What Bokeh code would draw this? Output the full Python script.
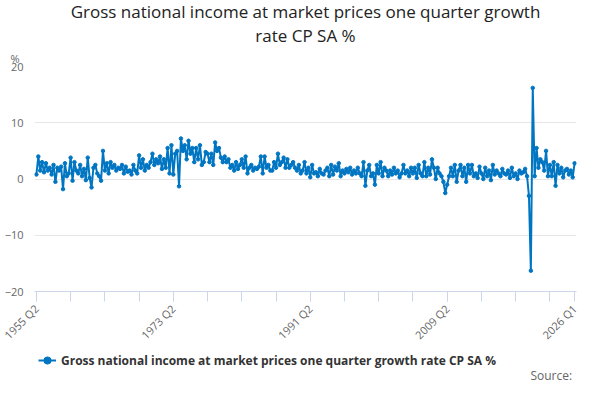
from bokeh.plotting import figure
from bokeh.embed import file_html
from bokeh.resources import INLINE
from bokeh.layouts import column
from bokeh.models import FixedTicker, Legend, LegendItem, Label, ColumnDataSource, Title

start_year = 1955
start_q = 2
series_name = "Gross national income at market prices one quarter growth rate CP SA %"
values = [
 0.8, 4.0, 1.5,
 3.0, 1.2, 2.8, 1.5,  2.0, 0.8, 2.5, -0.5,  2.0, 1.5, 2.2, -1.8,  2.8, 0.5, 1.0, 3.8,
 -0.3, 3.0, 1.5, 1.0,  2.5, 0.5, 1.8, -0.2,  3.8, 0.2, -1.5, 2.0,  2.5, 1.0, 0.5, -0.3,
 5.0, 1.5, 2.8, 1.0,  3.0, 2.0, 2.5, 1.5,  2.0, 1.8, 2.5, 1.0,  2.2, 1.3, 1.5, 0.8,
 2.5, 1.5, 1.0, 4.2,  2.0, 3.5, 1.5, 2.5,  2.0, 3.0, 4.5, 2.5,  3.5, 2.8, 4.0, 1.8,
 3.5, 2.0, 5.5, 1.0,  6.0, 0.8, 4.5, 5.0,  -1.3, 7.2, 5.0, 6.0,  3.5, 6.8, 4.5, 5.5,
 3.0, 5.5, 3.5, 6.0,  2.5, 3.0, 4.8, 4.5,  3.0, 4.5, 2.5, 6.5,  5.0, 5.5, 3.8, 3.0,
 4.0, 3.0, 3.5, 2.0,  2.5, 1.5, 3.0, 1.8,  2.5, 3.5, 2.0, 4.0,  1.0, 2.0, 2.5, 1.5,
 2.0, 1.8, 2.2, 4.0,  1.0, 4.0, 2.0, 2.5,  1.5, 1.5, 3.0, 2.0,  4.5, 2.5, 3.0, 3.8,
 2.0, 3.5, 2.0, 2.5,  3.0, 2.0, 1.5, 2.5,  1.0, 1.5, 3.0, 1.0,  2.0, 0.3, 2.5, 1.0,
 1.2, 0.5, 1.8, 1.0,  0.8, 1.5, 2.0, 0.5,  2.5, 0.8, 2.2, 1.5,  2.8, 0.5, 1.5, 1.0,
 1.8, 1.2, 2.0, 0.8,  1.5, 1.0, 2.0, 1.0,  0.5, 3.0, -1.2, 1.5,  2.5, 0.5, 1.0, -1.0,
 2.5, 1.0, 3.0, 0.5,  2.0, 1.5, 0.5, 1.5,  0.8, 2.0, 1.0, 1.5,  0.3, 1.0, 2.5, 1.0,
 1.5, 0.5, 2.0, 1.0,  2.0, 0.2, 2.5, 1.0,  0.5, 3.0, 0.5, 2.0,  0.8, 3.5, 2.0, 0.0,
 2.0, 1.0, 0.5, -0.5,  -2.5, -1.0, 0.5, 2.0,  0.5, 2.5, -0.5, 1.5,  2.5, 0.5, 2.0, -0.5,
 2.5, 1.0, 2.5, 0.5,  1.0, 0.2, 2.2, 1.0,  0.0, 2.0, 0.5, 1.5,  -0.2, 2.5, 0.8, 1.5,
 1.0, 0.5, 1.8, 1.0,  0.8, 1.5, 0.2, 2.0,  0.5, 1.0, 0.0, 1.5,  1.0, 1.2, 1.8, 0.5,
 -3.0, -16.3, 16.2, 0.5,  5.5, 2.0, 3.5, 3.0,  1.5, 5.0, 0.5, 2.5,  0.5, 3.0, -1.2, 2.5,
 1.0, 2.0, 0.3, 1.5,  1.8, 0.8, 1.5, 0.3,
 2.8,
]
n = len(values)
labels = []
y, q = start_year, start_q
for i in range(n):
    labels.append(f"{y} Q{q}")
    q += 1
    if q > 4:
        q = 1
        y += 1
xs = list(range(n))
tick_idx = [0, 72, 144, 216, n - 1]

blue = "#0075c2"
p = figure(width=584, height=350, output_backend="svg", toolbar_location=None,
           x_range=(-1, n), y_range=(-20, 20),
           min_border_left=34, min_border_right=8, min_border_top=6, min_border_bottom=4)
p.add_layout(Title(text="%", align="left", text_font_size="11px", text_color="#666666",
                   text_font="Open Sans", text_font_style="normal", offset=-24, standoff=2), "above")
p.add_layout(Title(text="rate CP SA %", align="center", text_font_size="17px",
                   text_font="Open Sans", text_font_style="normal", text_color="#222222",
                   standoff=2), "above")
p.add_layout(Title(text="Gross national income at market prices one quarter growth", align="center",
                   text_font_size="17px", text_font="Open Sans", text_font_style="normal",
                   text_color="#222222", standoff=-5), "above")
src = ColumnDataSource(dict(x=xs, y=values))
p.line("x", "y", source=src, line_color=blue, line_width=2)
p.scatter("x", "y", source=src, size=3.5, color=blue)

p.xaxis.ticker = FixedTicker(ticks=tick_idx, minor_ticks=list(range(0, n, 18)))
p.xaxis.major_label_overrides = {i: labels[i] for i in tick_idx}
p.xaxis.major_label_orientation = 0.785
p.xaxis.major_label_text_font_size = "11px"
p.xaxis.major_label_text_color = "#666666"
p.xaxis.axis_line_color = "#ccd6eb"
p.xaxis.major_tick_line_color = "#ccd6eb"
p.xaxis.minor_tick_line_color = "#ccd6eb"
p.xaxis.major_tick_out = 10
p.xaxis.minor_tick_out = 10
p.xaxis.major_tick_in = 0
p.xaxis.minor_tick_in = 0
p.yaxis.ticker = FixedTicker(ticks=[-20, -10, 0, 10, 20])
p.yaxis.major_label_text_font_size = "11px"
p.yaxis.major_label_text_color = "#666666"
p.yaxis.axis_line_color = None
p.yaxis.major_tick_line_color = None
p.yaxis.minor_tick_line_color = None
p.xgrid.grid_line_color = None
p.ygrid.grid_line_color = "#e6e6e6"
p.outline_line_color = None
for ax in (p.xaxis, p.yaxis):
    ax.major_label_text_font = "Open Sans"

# legend + source strip
f = figure(width=584, height=34, output_backend="svg", toolbar_location=None,
           x_range=(0, 1), y_range=(0, 1), min_border=0)
f.axis.visible = False
f.grid.visible = False
f.outline_line_color = None
offscreen = ColumnDataSource(dict(x=[5, 6], y=[5, 5]))
l1 = f.line("x", "y", source=offscreen, line_color=blue, line_width=2)
l2 = f.scatter("x", "y", source=offscreen, size=4, color=blue)
legend = Legend(items=[LegendItem(label=series_name, renderers=[l1, l2])],
                location=(4, 14), orientation="horizontal", border_line_color=None,
                background_fill_alpha=0,
                label_text_font_size="12px", label_text_font_style="bold", label_text_color="#333333",
                label_text_font="Open Sans", glyph_width=18, padding=0, margin=0)
f.add_layout(legend, "center")
f.add_layout(Label(x=0.915, y=0.02, text="Source:",
                   text_font_size="12px", text_font="Open Sans", text_color="#666666"))
layout = column(p, f, spacing=0)
open("out.html", "w").write(file_html(layout, INLINE))
